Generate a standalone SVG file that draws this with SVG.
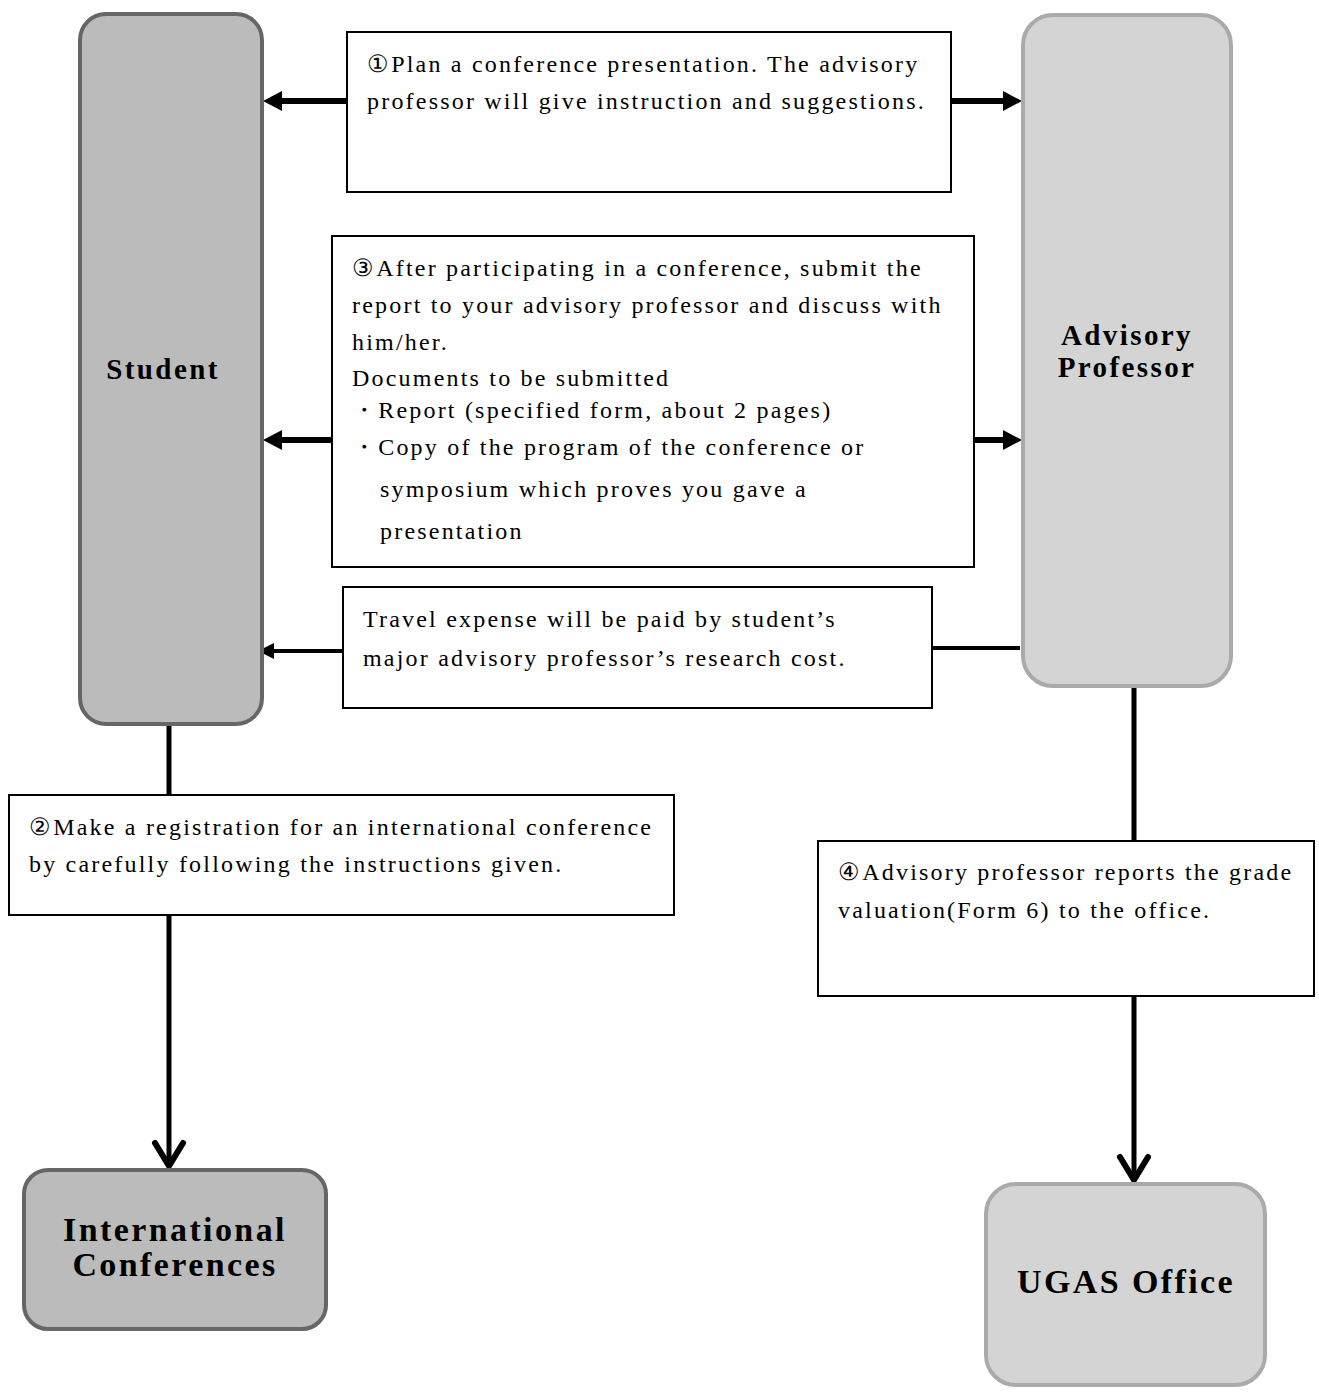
<svg xmlns="http://www.w3.org/2000/svg" width="1319" height="1394" viewBox="0 0 1319 1394">
<style>
.t{font-family:"Liberation Serif","Times New Roman",serif;font-size:24px;letter-spacing:2.2px;fill:#000}
.b{font-family:"Liberation Serif","Times New Roman",serif;font-weight:bold;fill:#000;text-anchor:middle;letter-spacing:2.4px}
.box{fill:#fff;stroke:#000;stroke-width:2}
.dark{fill:#bbbbbb;stroke:#666;stroke-width:4}
.light{fill:#d4d4d4;stroke:#aaa;stroke-width:4}
.ln{stroke:#000;fill:none}
.hd{fill:#000}
.chev{fill:none;stroke:#000;stroke-width:6;stroke-linecap:round}
</style>
<g id="connectors">
<line class="ln" x1="347" y1="101" x2="275" y2="101" stroke-width="6"/>
<polygon class="hd" points="263,101 282,91 282,111"/>
<line class="ln" x1="951" y1="101" x2="1008" y2="101" stroke-width="6"/>
<polygon class="hd" points="1022,101 1003,91 1003,111"/>
<line class="ln" x1="332" y1="440" x2="275" y2="440" stroke-width="6"/>
<polygon class="hd" points="263,440 282,430 282,450"/>
<line class="ln" x1="974" y1="440" x2="1008" y2="440" stroke-width="6"/>
<polygon class="hd" points="1022,440 1003,430 1003,450"/>
<line class="ln" x1="1020" y1="648" x2="932" y2="648" stroke-width="4"/>
<line class="ln" x1="343" y1="651" x2="270" y2="651" stroke-width="4"/>
<polygon class="hd" points="258,651 274,643 274,659"/>
<line class="ln" x1="169" y1="724" x2="169" y2="795" stroke-width="5"/>
<line class="ln" x1="169" y1="915" x2="169" y2="1165" stroke-width="5"/>
<path class="chev" d="M155,1143 L169,1166 L183,1143"/>
<line class="ln" x1="1134" y1="687" x2="1134" y2="841" stroke-width="5"/>
<line class="ln" x1="1134" y1="996" x2="1134" y2="1179" stroke-width="5"/>
<path class="chev" d="M1120,1157 L1134,1180 L1148,1157"/>
</g>
<g id="student">
<rect class="dark" x="80" y="14" width="182" height="710" rx="26"/>
<text class="b" x="163" y="379" font-size="29">Student</text>
</g>
<g id="professor">
<rect class="light" x="1023" y="15" width="208" height="671" rx="30"/>
<text class="b" x="1127" y="345" font-size="29">Advisory</text>
<text class="b" x="1127" y="377" font-size="29">Professor</text>
</g>
<g id="intl">
<rect class="dark" x="24" y="1170" width="302" height="159" rx="24"/>
<text class="b" x="175" y="1241" font-size="34">International</text>
<text class="b" x="175" y="1276" font-size="34">Conferences</text>
</g>
<g id="ugas">
<rect class="light" x="986" y="1184" width="279" height="201" rx="30"/>
<text class="b" x="1126" y="1293" font-size="34">UGAS Office</text>
</g>
<g id="step1">
<rect class="box" x="347" y="32" width="604" height="160"/>
<text class="t" x="367" y="72">①Plan a conference presentation. The advisory</text>
<text class="t" x="367" y="109">professor will give instruction and suggestions.</text>
</g>
<g id="step3">
<rect class="box" x="332" y="236" width="642" height="331"/>
<text class="t" x="352" y="276">③After participating in a conference, submit the</text>
<text class="t" x="352" y="313">report to your advisory professor and discuss with</text>
<text class="t" x="352" y="350">him/her.</text>
<text class="t" x="352" y="386">Documents to be submitted</text>
<text class="t" x="352" y="418">・Report (specified form, about 2 pages)</text>
<text class="t" x="352" y="455">・Copy of the program of the conference or</text>
<text class="t" x="380" y="497">symposium which proves you gave a</text>
<text class="t" x="380" y="539">presentation</text>
</g>
<g id="travel">
<rect class="box" x="343" y="587" width="589" height="121"/>
<text class="t" x="363" y="627">Travel expense will be paid by student’s</text>
<text class="t" x="363" y="666">major advisory professor’s research cost.</text>
</g>
<g id="step2">
<rect class="box" x="9" y="795" width="665" height="120"/>
<text class="t" x="29" y="835">②Make a registration for an international conference</text>
<text class="t" x="29" y="872">by carefully following the instructions given.</text>
</g>
<g id="step4">
<rect class="box" x="818" y="841" width="496" height="155"/>
<text class="t" x="838" y="880">④Advisory professor reports the grade</text>
<text class="t" x="838" y="918">valuation(Form 6) to the office.</text>
</g>
</svg>
